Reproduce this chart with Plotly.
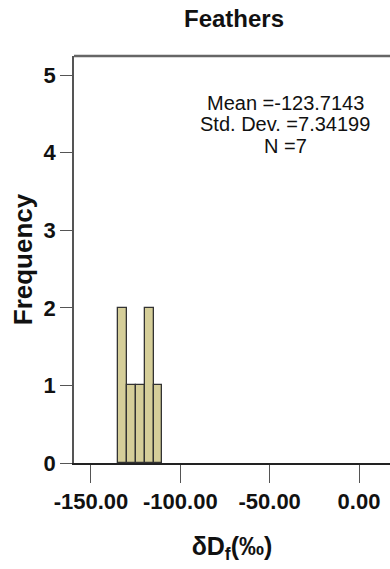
import plotly.graph_objects as go

# Histogram of feather δD values (bin width 5 ‰)
bin_starts = [-135, -130, -125, -120, -115]
bin_width = 5
counts = [2, 1, 1, 2, 1]

x_ticks = [-150, -100, -50, 0]
x_tick_labels = ["-150.00", "-100.00", "-50.00", "0.00"]
y_ticks = [0, 1, 2, 3, 4, 5]

stats_lines = ["Mean =-123.7143", "Std. Dev. =7.34199", "N =7"]

FONT = "Liberation Sans, Arial, sans-serif"

fig = go.Figure()
fig.add_trace(go.Bar(
    x=[s + bin_width / 2 for s in bin_starts],
    y=counts,
    width=bin_width,
    marker=dict(color="#d5ce99", line=dict(color="#333333", width=1.3)),
    showlegend=False,
))

# summary statistics block, one line per annotation
for i, line in enumerate(stats_lines):
    fig.add_annotation(
        x=0.668, y=0.884 - i * 0.052, xref="paper", yref="paper",
        text=line, showarrow=False,
        font=dict(family=FONT, size=20, color="#111"),
        xanchor="center", yanchor="middle",
    )

fig.update_layout(
    width=390, height=569,
    margin=dict(l=74, r=0, t=56, b=106),
    paper_bgcolor="white", plot_bgcolor="white",
    font=dict(family=FONT, color="#111"),
    title=dict(text="<b>Feathers</b>", x=0.6, xanchor="center", y=0.968, yanchor="middle",
               font=dict(size=24, color="#111")),
    xaxis=dict(
        range=[-159.5, 17.35], tickvals=x_ticks, ticktext=x_tick_labels,
        showgrid=False, zeroline=False, showline=True, linecolor="#222", linewidth=1.5,
        ticks="outside", ticklen=18, tickcolor="#555", tickwidth=1.2,
        tickfont=dict(size=22, family=FONT, weight="bold"),
        title=dict(text="<b>δD<sub>f</sub>(‰)</b>", font=dict(size=25), standoff=24),
    ),
    yaxis=dict(
        range=[0, 5.245], tickvals=y_ticks,
        showgrid=False, zeroline=False, showline=True, linecolor="#555", linewidth=1.5,
        ticks="outside", ticklen=12, tickcolor="#555", tickwidth=1.2,
        tickfont=dict(size=22, family=FONT, weight="bold"),
        title=dict(text="<b>Frequency</b>", font=dict(size=26), standoff=3),
    ),
    bargap=0,
)

# top border of the plot frame
fig.add_shape(type="line", xref="paper", yref="paper", x0=0, x1=1, y0=1, y1=1,
              line=dict(color="#666", width=2.5))

fig.write_html("out.html")
